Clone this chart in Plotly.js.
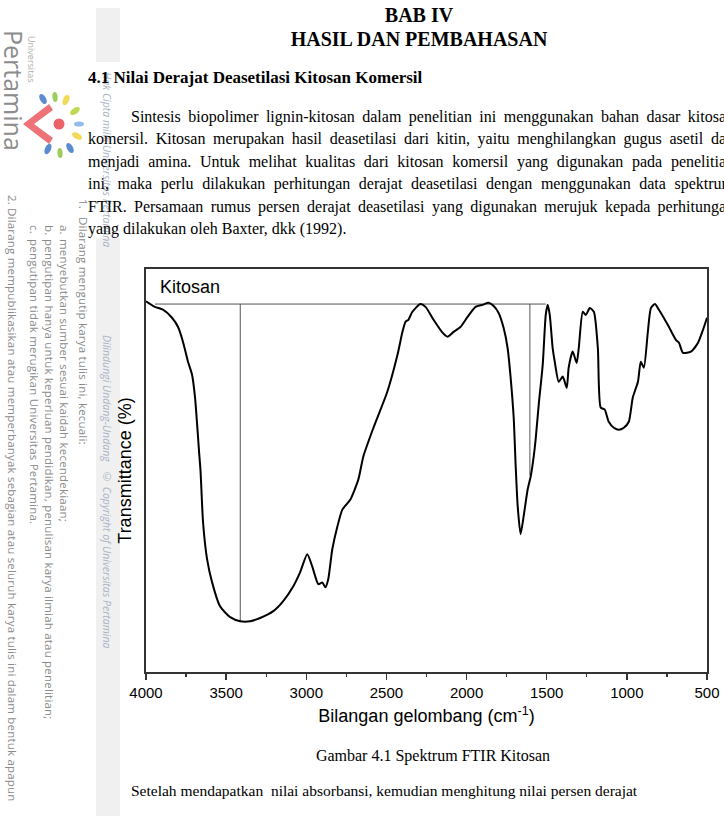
<!DOCTYPE html>
<html>
<head>
<meta charset="utf-8">
<script src="https://cdn.plot.ly/plotly-3.0.1.min.js"></script>
<style>
  html, body { margin:0; padding:0; background:#fff; }
  #page { position:relative; width:724px; height:820px; overflow:hidden; background:#fff; }
  .serif { font-family:"Liberation Serif","Times New Roman",serif; color:#000; position:absolute; white-space:nowrap; z-index:3; }
  .wm { position:absolute; writing-mode:vertical-rl; font-family:"Open Sans",sans-serif; white-space:nowrap; }
  .rule { font-size:11.5px; line-height:13px; letter-spacing:0.2px; color:#8a8a8a; }
  .it { font-size:10.5px; line-height:12px; color:#aab3c6; font-style:italic; z-index:2; }
  .pline { position:absolute; left:88px; width:646px; font-family:"Liberation Serif","Times New Roman",serif; font-size:16px; line-height:20px; color:#000; text-align:justify; text-align-last:justify; white-space:nowrap; z-index:3; }
  #chart { position:absolute; left:0; top:0; width:724px; height:820px; z-index:2; }
  #strip { position:absolute; left:96px; top:8px; width:24px; height:808px; background:#f0f0f0; z-index:0; }
  #textbg { position:absolute; left:88px; top:62px; width:636px; height:176px; background:#fff; z-index:1; }
</style>
</head>
<body>
<div id="page">
  <div id="strip"></div>
  <div id="textbg"></div>

  <!-- watermark -->
  <div class="wm" style="left:1px;top:30px;font-size:25px;line-height:26px;color:#8c8c8c;">Pertamina</div>
  <div class="wm" style="left:26px;top:36px;font-size:9px;line-height:11px;color:#b0b0b0;">Universitas</div>
  <svg style="position:absolute;left:0;top:0;opacity:0.85;" width="100" height="170">
    <path d="M23 124 L49 104 L53 110 L34 124 L53 138 L49 144 Z" fill="#ec5b61"/>
    <circle cx="59" cy="124" r="5.5" fill="#e8474f"/>
    <ellipse cx="43" cy="99" rx="3" ry="5.5" fill="#3f78c8" transform="rotate(-30 43 99)"/>
    <ellipse cx="55" cy="97" rx="2.6" ry="5" fill="#8cc63f" transform="rotate(-5 55 97)"/>
    <ellipse cx="66" cy="100" rx="3" ry="5.5" fill="#f1d33b" transform="rotate(25 66 100)"/>
    <ellipse cx="75" cy="111" rx="3" ry="5.5" fill="#b5d334" transform="rotate(55 75 111)"/>
    <ellipse cx="79" cy="124" rx="2.6" ry="5" fill="#7fb2e5" transform="rotate(90 79 124)"/>
    <ellipse cx="77" cy="136" rx="3" ry="5.5" fill="#f1d33b" transform="rotate(120 77 136)"/>
    <ellipse cx="70" cy="148" rx="3" ry="5.5" fill="#3f78c8" transform="rotate(150 70 148)"/>
    <ellipse cx="60" cy="153" rx="2.6" ry="5" fill="#8cc63f" transform="rotate(175 60 153)"/>
    <ellipse cx="48" cy="149" rx="3" ry="5.5" fill="#3f78c8" transform="rotate(205 48 149)"/>
  </svg>

  <div class="wm rule" style="left:77px;top:199px;">1.</div>
  <div class="wm rule" style="left:77px;top:217px;">Dilarang mengutip karya tulis ini, kecuali:</div>
  <div class="wm rule" style="left:58px;top:225px;">a.</div>
  <div class="wm rule" style="left:58px;top:239px;">menyebutkan sumber sesuai kaidah kecendekiaan;</div>
  <div class="wm rule" style="left:43px;top:225px;">b.</div>
  <div class="wm rule" style="left:43px;top:239px;">pengutipan hanya untuk keperluan pendidikan, penulisan karya ilmiah atau penelitian;</div>
  <div class="wm rule" style="left:28px;top:225px;">c.</div>
  <div class="wm rule" style="left:28px;top:239px;">pengutipan tidak merugikan Universitas Pertamina.</div>
  <div class="wm rule" style="left:6px;top:195px;">2.</div>
  <div class="wm rule" style="left:6px;top:208px;">Dilarang mempublikasikan atau memperbanyak sebagian atau seluruh karya tulis ini dalam bentuk apapun</div>

  <div class="wm it" style="left:101px;top:72px;">Hak Cipta milik Universitas Pertamina</div>
  <div class="wm it" style="left:101px;top:335px;">Dilindungi Undang-Undang</div>
  <div class="wm it" style="left:101px;top:470px;">© Copyright of Universitas Pertamina</div>

  <!-- headings -->
  <div class="serif" style="left:0;width:838px;text-align:center;top:4px;font-size:20px;font-weight:bold;line-height:22px;">BAB IV</div>
  <div class="serif" style="left:0;width:838px;text-align:center;top:28px;font-size:20px;font-weight:bold;line-height:22px;">HASIL DAN PEMBAHASAN</div>
  <div class="serif" style="left:88px;top:68px;font-size:17px;font-weight:bold;line-height:20px;">4.1 Nilai Derajat Deasetilasi Kitosan Komersil</div>

  <div class="pline" style="top:107px;padding-left:43px;width:603px;">Sintesis biopolimer lignin-kitosan dalam penelitian ini menggunakan bahan dasar kitosan</div>
  <div class="pline" style="top:129px;">komersil. Kitosan merupakan hasil deasetilasi dari kitin, yaitu menghilangkan gugus asetil dan</div>
  <div class="pline" style="top:152px;">menjadi amina. Untuk melihat kualitas dari kitosan komersil yang digunakan pada penelitian</div>
  <div class="pline" style="top:174px;">ini, maka perlu dilakukan perhitungan derajat deasetilasi dengan menggunakan data spektrum</div>
  <div class="pline" style="top:197px;">FTIR. Persamaan rumus persen derajat deasetilasi yang digunakan merujuk kepada perhitungan</div>
  <div class="pline" style="top:219px;text-align:left;text-align-last:left;">yang dilakukan oleh Baxter, dkk (1992).</div>

  <div id="chart"></div>

  <div class="serif" style="left:0;width:866px;text-align:center;top:746px;font-size:16px;line-height:20px;">Gambar 4.1 Spektrum FTIR Kitosan</div>
  <div class="serif" style="left:131px;top:781px;font-size:15.5px;line-height:20px;">Setelah mendapatkan&nbsp; nilai absorbansi, kemudian menghitung nilai persen derajat</div>
</div>

<script>
// FTIR spectrum of Kitosan: wavenumber (cm-1) and transmittance (arbitrary %)
const wavenumber = [4000,3944,3894,3838,3800,3769,3738,3713,3694,3681,3669,3660,3644,3619,3588,3538,3475,3412,3350,3288,3206,3144,3081,3038,2994,2963,2925,2900,2881,2863,2838,2806,2775,2725,2675,2644,2581,2494,2431,2400,2381,2363,2338,2288,2256,2206,2150,2119,2081,2038,1994,1944,1900,1863,1831,1800,1769,1744,1725,1706,1694,1681,1663,1644,1619,1600,1581,1569,1550,1525,1506,1494,1481,1463,1450,1425,1400,1375,1363,1338,1313,1300,1275,1256,1231,1206,1181,1163,1138,1113,1081,1050,1019,988,963,931,913,894,869,850,825,800,744,694,675,650,600,556,525,500];
const transmittance = [92.0,90.6,89.9,87.9,85.6,81.9,77.0,73.8,68.1,61.4,54.7,50.0,37.1,28.0,22.3,16.3,13.6,12.6,12.6,13.4,15.1,17.6,21.3,24.8,29.2,26.2,21.8,22.2,21.0,23.0,30.4,36.1,40.3,42.8,47.8,53.5,60.6,69.6,78.7,84.4,86.9,87.4,89.4,91.3,90.6,87.4,84.2,83.2,84.4,85.6,88.1,90.6,91.1,91.6,90.8,89.1,85.4,80.4,73.0,63.1,51.5,41.1,34.2,38.6,45.3,48.5,53.5,57.7,66.3,76.2,88.6,91.1,88.6,80.4,77.0,72.0,73.3,70.5,75.5,79.5,76.7,80.4,89.4,88.6,90.3,89.4,80.4,65.6,65.1,62.1,60.6,60.1,60.6,62.1,68.1,72.0,77.0,75.5,84.4,90.3,91.3,89.9,86.1,82.4,81.7,79.2,79.5,81.7,84.9,87.9];

// baseline construction used for the degree of deacetylation
const baselineX = [3944, 1506];
const baselineY = [91.3, 91.3];
const ohLineX = [3412, 3412];       // O-H band (~3412 cm-1)
const ohLineY = [91.3, 12.6];
const amideLineX = [1605, 1605];    // amide band reference (~1605 cm-1)
const amideLineY = [91.3, 48.8];

const xTicks = [4000, 3500, 3000, 2500, 2000, 1500, 1000, 500];
const xTickLabels = ["4000", "3500", "3000", "2500", "2000", "1500", "1000", "500"];
const xMinorTicks = [3750, 3250, 2750, 2250, 1750, 1250, 750];
const sampleLabel = "Kitosan";

const refStyle = {color:'#555555', width:1};
const traces = [
  {x: baselineX, y: baselineY, mode:'lines', line: refStyle, hoverinfo:'skip'},
  {x: ohLineX, y: ohLineY, mode:'lines', line: refStyle, hoverinfo:'skip'},
  {x: amideLineX, y: amideLineY, mode:'lines', line: refStyle, hoverinfo:'skip'},
  {x: wavenumber, y: transmittance, mode:'lines', line:{color:'#000', width:2, shape:'spline', smoothing:0.6}}
];

const axFont = {family:'"Liberation Sans", Arial, sans-serif', size:15, color:'#000'};
const layout = {
  width:724, height:820,
  margin:{l:146, r:17, t:269, b:148},
  paper_bgcolor:'rgba(0,0,0,0)', plot_bgcolor:'rgba(0,0,0,0)',
  showlegend:false,
  xaxis:{
    range:[4000, 500], tickmode:'array', tickvals:xTicks, ticktext:xTickLabels,
    ticks:'outside', ticklen:6, tickwidth:1.3, tickcolor:'#333',
    minor:{ticks:'outside', ticklen:3, tickwidth:1.2, tickcolor:'#333', tickmode:'array', tickvals:xMinorTicks},
    showline:true, mirror:true, linecolor:'#333', linewidth:1.6,
    showgrid:false, zeroline:false, tickfont:axFont,
    title:{text:'Bilangan gelombang (cm<sup>-1</sup>)', font:{family:axFont.family, size:18, color:'#000'}, standoff:10},
    automargin:false
  },
  yaxis:{
    range:[0, 100], showticklabels:false, ticks:'',
    showline:true, mirror:true, linecolor:'#333', linewidth:1.6,
    showgrid:false, zeroline:false,
    title:{text:'Transmittance (%)', font:{family:axFont.family, size:18, color:'#000'}, standoff:8},
    automargin:false
  },
  annotations:[{
    text: sampleLabel, xref:'paper', yref:'paper', x:0.021, y:0.955,
    xanchor:'left', yanchor:'middle', showarrow:false,
    font:{family:axFont.family, size:18, color:'#000'}
  }]
};
Plotly.newPlot('chart', traces, layout, {staticPlot:true, displayModeBar:false});
</script>
</body>
</html>
